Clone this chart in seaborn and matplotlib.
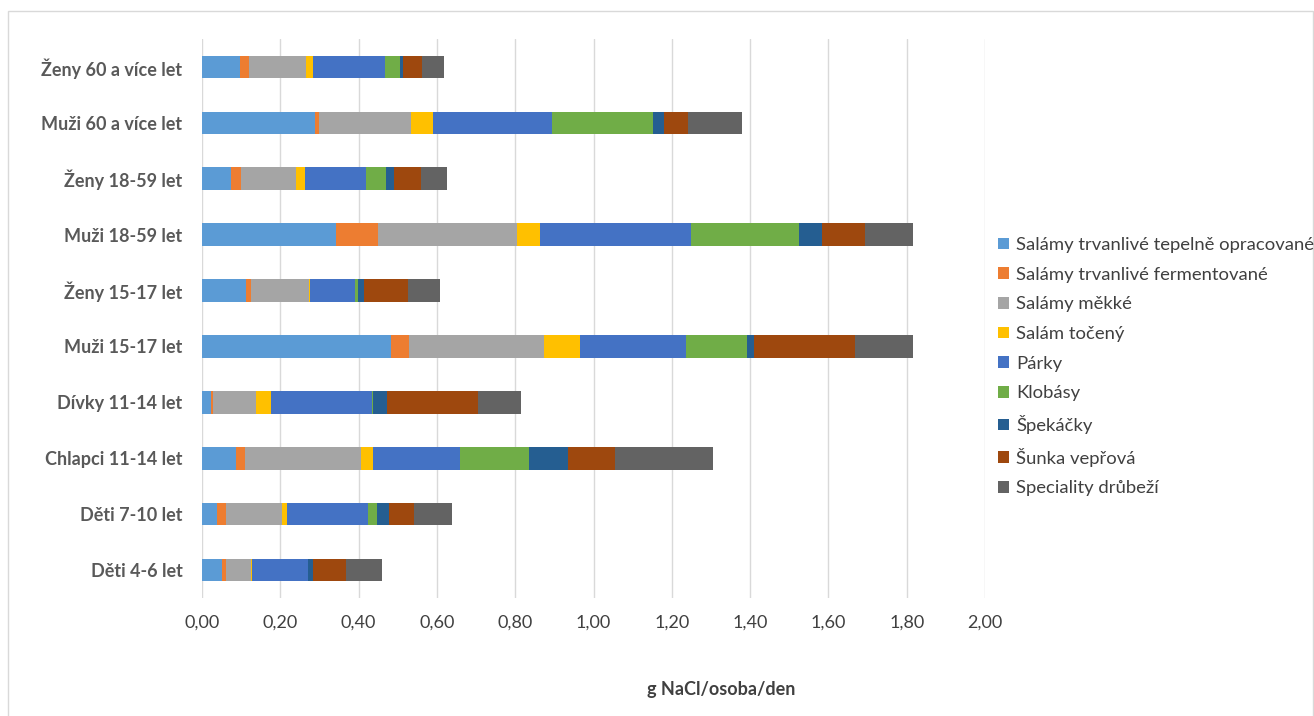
import matplotlib
matplotlib.use("Agg")
import matplotlib.pyplot as plt
from matplotlib.patches import Patch, Rectangle
from matplotlib.ticker import FuncFormatter
import numpy as np
import pandas as pd
import seaborn as sns

# Population groups (top to bottom)
groups = [
    "Ženy 60 a více let", "Muži 60 a více let", "Ženy 18-59 let", "Muži 18-59 let",
    "Ženy 15-17 let", "Muži 15-17 let", "Dívky 11-14 let", "Chlapci 11-14 let",
    "Děti 7-10 let", "Děti 4-6 let",
]

# Salt intake per product group, g NaCl/osoba/den
salamy_tepelne = [0.097, 0.289, 0.074, 0.342, 0.112, 0.482, 0.024, 0.088, 0.039, 0.051]
salamy_fermentovane = [0.022, 0.011, 0.025, 0.107, 0.012, 0.047, 0.004, 0.021, 0.023, 0.010]
salamy_mekke = [0.147, 0.235, 0.140, 0.356, 0.149, 0.344, 0.111, 0.296, 0.142, 0.064]
salam_toceny = [0.017, 0.055, 0.025, 0.058, 0.002, 0.093, 0.036, 0.032, 0.012, 0.003]
parky = [0.185, 0.304, 0.154, 0.386, 0.117, 0.271, 0.258, 0.221, 0.207, 0.143]
klobasy = [0.038, 0.259, 0.052, 0.276, 0.007, 0.154, 0.005, 0.176, 0.025, 0.000]
spekacky = [0.008, 0.026, 0.020, 0.059, 0.016, 0.018, 0.035, 0.102, 0.030, 0.013]
sunka = [0.047, 0.063, 0.069, 0.110, 0.111, 0.260, 0.233, 0.120, 0.063, 0.084]
speciality = [0.057, 0.137, 0.067, 0.122, 0.081, 0.148, 0.110, 0.249, 0.097, 0.091]

series_names = [
    "Salámy trvanlivé tepelně opracované", "Salámy trvanlivé fermentované",
    "Salámy měkké", "Salám točený", "Párky", "Klobásy", "Špekáčky",
    "Šunka vepřová", "Speciality drůbeží",
]
series_values = [salamy_tepelne, salamy_fermentovane, salamy_mekke, salam_toceny,
                 parky, klobasy, spekacky, sunka, speciality]
colors = ["#5B9BD5", "#ED7D31", "#A5A5A5", "#FFC000", "#4472C4",
          "#70AD47", "#255E91", "#9E480E", "#636363"]

sns.set_theme(style="white")
plt.rcParams["font.family"] = ["Lato", "DejaVu Sans"]
label_color = "#595959"
text_color = "#404040"

W, H = 1314, 716
fig = plt.figure(figsize=(W / 100, H / 100), dpi=100)
ax = fig.add_axes([202 / W, 1 - 598 / H, (985 - 202) / W, (598 - 39) / H])

# Cumulative stacks, drawn from the full total down so each layer shows its own segment
cum = np.cumsum(np.array(series_values), axis=0)
df = pd.DataFrame({"group": groups})
for i in range(len(series_names) - 1, -1, -1):
    df["val"] = cum[i]
    sns.barplot(data=df, y="group", x="val", orient="h", color=colors[i],
                saturation=1, width=0.405, linewidth=0, ax=ax, errorbar=None)

ax.set_xlim(0, 2.0)
ax.set_ylim(9.5, -0.5)
ax.set_xticks(np.arange(0, 2.01, 0.2))
ax.xaxis.set_major_formatter(FuncFormatter(lambda v, p: f"{v:.2f}".replace(".", ",")))
ax.grid(axis="x", color="#D9D9D9", linewidth=1)
ax.grid(axis="y", visible=False)
ax.set_axisbelow(True)
for s in ax.spines.values():
    s.set_visible(False)
ax.set_xlabel("")
ax.set_ylabel("")
ax.tick_params(axis="x", length=0, pad=12, labelsize=13, labelcolor=text_color)
ax.tick_params(axis="y", length=0, pad=14, labelsize=13, labelcolor=label_color)
for lbl in ax.get_yticklabels():
    lbl.set_fontweight("bold")

fig.text(721 / W, 1 - 690 / H, "g NaCl/osoba/den", ha="center", va="center",
         fontsize=13, fontweight="bold", color=text_color)

handles = [Patch(facecolor=c, edgecolor="none") for c in colors]
fig.legend(handles, series_names, loc="upper left", bbox_to_anchor=(998 / W, 1 - 237 / H),
           frameon=False, fontsize=13.3, labelcolor=text_color, handlelength=0.6,
           handleheight=0.6, handletextpad=0.4, labelspacing=0.74, borderpad=0,
           borderaxespad=0)

# Chart area outline
fig.patches.append(Rectangle((8 / W, -0.1), (1313 - 8) / W, 1.1 - 11 / H, fill=False,
                             edgecolor="#D9D9D9", linewidth=1, transform=fig.transFigure))

fig.savefig("out.png", dpi=100)
